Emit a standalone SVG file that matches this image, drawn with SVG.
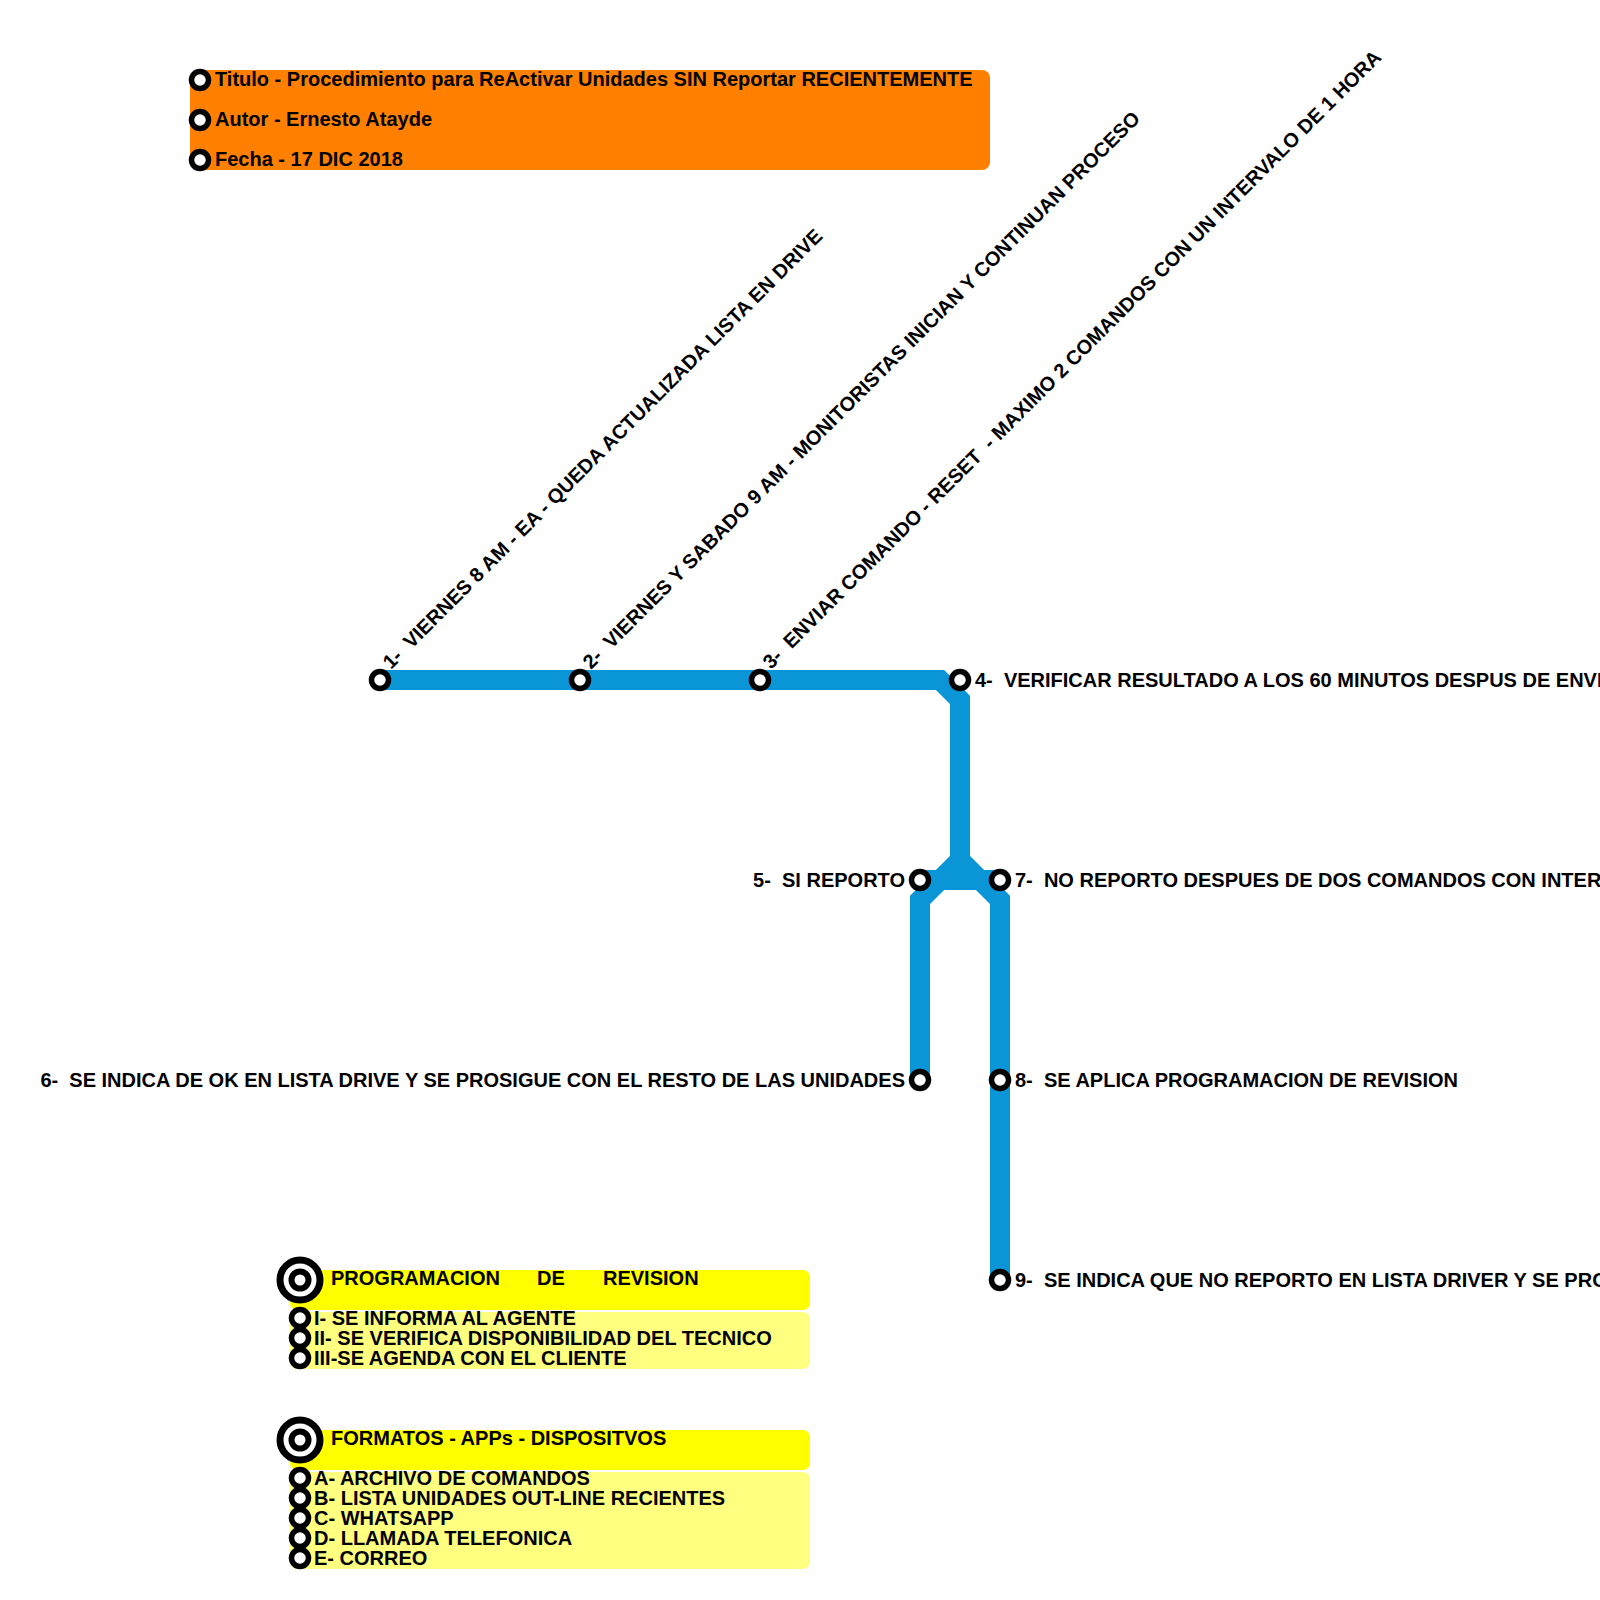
<svg xmlns="http://www.w3.org/2000/svg" width="1600" height="1600" viewBox="0 0 1600 1600">
<style>
text{font-family:"Liberation Sans",Arial,sans-serif;font-weight:bold;font-size:20px;fill:#000}
.st{fill:#fff;stroke:#000;stroke-width:5.5}
.ln{fill:none;stroke:#0A96D6;stroke-width:20;stroke-linejoin:miter;stroke-linecap:butt}
.big1{fill:#fff;stroke:#000;stroke-width:7}
.big2{fill:#fff;stroke:#000;stroke-width:6}
</style>
<rect width="1600" height="1600" fill="#fff"/>

<g id="header">
<rect x="190" y="70" width="800" height="100" rx="8" fill="#FF8000"/>
<circle class="st" cx="200" cy="80" r="8.5"/>
<circle class="st" cx="200" cy="120" r="8.5"/>
<circle class="st" cx="200" cy="160" r="8.5"/>
<text x="215" y="86">Titulo - Procedimiento para ReActivar Unidades SIN Reportar RECIENTEMENTE</text>
<text x="215" y="126">Autor - Ernesto Atayde</text>
<text x="215" y="166">Fecha - 17 DIC 2018</text>
</g>

<g id="connectors">
<path class="ln" d="M380,680 H940 L960,700 V860"/>
<path class="ln" d="M960,860 L920,900 V1080"/>
<path class="ln" d="M960,860 L1000,900 V1280"/>
<path class="ln" d="M920,880 H1000"/>
</g>

<g id="n1">
<circle class="st" cx="380" cy="680" r="8.5"/>
<text x="391" y="670" transform="rotate(-45 391 670)" xml:space="preserve">1-  VIERNES 8 AM - EA - QUEDA ACTUALIZADA LISTA EN DRIVE</text>
</g>
<g id="n2">
<circle class="st" cx="580" cy="680" r="8.5"/>
<text x="591" y="670" transform="rotate(-45 591 670)" xml:space="preserve">2-  VIERNES Y SABADO 9 AM - MONITORISTAS INICIAN Y CONTINUAN PROCESO</text>
</g>
<g id="n3">
<circle class="st" cx="760" cy="680" r="8.5"/>
<text x="771" y="670" transform="rotate(-45 771 670)" xml:space="preserve">3-  ENVIAR COMANDO - RESET  - MAXIMO 2 COMANDOS CON UN INTERVALO DE 1 HORA</text>
</g>
<g id="n4">
<circle class="st" cx="960" cy="680" r="8.5"/>
<text x="975" y="687" xml:space="preserve">4-  VERIFICAR RESULTADO A LOS 60 MINUTOS DESPUS DE ENVI</text>
</g>
<g id="n5">
<circle class="st" cx="920" cy="880" r="8.5"/>
<text x="905" y="887" text-anchor="end" xml:space="preserve">5-  SI REPORTO</text>
</g>
<g id="n6">
<circle class="st" cx="920" cy="1080" r="8.5"/>
<text x="905" y="1087" text-anchor="end" xml:space="preserve">6-  SE INDICA DE OK EN LISTA DRIVE Y SE PROSIGUE CON EL RESTO DE LAS UNIDADES</text>
</g>
<g id="n7">
<circle class="st" cx="1000" cy="880" r="8.5"/>
<text x="1015" y="887" xml:space="preserve">7-  NO REPORTO DESPUES DE DOS COMANDOS CON INTER</text>
</g>
<g id="n8">
<circle class="st" cx="1000" cy="1080" r="8.5"/>
<text x="1015" y="1087" xml:space="preserve">8-  SE APLICA PROGRAMACION DE REVISION</text>
</g>
<g id="n9">
<circle class="st" cx="1000" cy="1280" r="8.5"/>
<text x="1015" y="1287" xml:space="preserve">9-  SE INDICA QUE NO REPORTO EN LISTA DRIVER Y SE PRO</text>
</g>

<g id="legend1">
<rect x="290" y="1270" width="520" height="40" rx="7" fill="#FFFF00"/>
<rect x="290" y="1312" width="520" height="57" rx="7" fill="#FFFF80"/>
<circle class="big1" cx="300" cy="1280" r="20"/>
<circle class="big2" cx="300" cy="1280" r="8.5"/>
<text y="1285"><tspan x="331">PROGRAMACION</tspan><tspan x="537">DE</tspan><tspan x="603">REVISION</tspan></text>
<circle class="st" cx="300" cy="1318" r="8.5"/>
<circle class="st" cx="300" cy="1338" r="8.5"/>
<circle class="st" cx="300" cy="1358" r="8.5"/>
<text x="314" y="1325">I- SE INFORMA AL AGENTE</text>
<text x="314" y="1345">II- SE VERIFICA DISPONIBILIDAD DEL TECNICO</text>
<text x="314" y="1365">III-SE AGENDA CON EL CLIENTE</text>
</g>

<g id="legend2">
<rect x="290" y="1430" width="520" height="40" rx="7" fill="#FFFF00"/>
<rect x="290" y="1472" width="520" height="97" rx="7" fill="#FFFF80"/>
<circle class="big1" cx="300" cy="1440" r="20"/>
<circle class="big2" cx="300" cy="1440" r="8.5"/>
<text x="331" y="1445">FORMATOS - APPs - DISPOSITVOS</text>
<circle class="st" cx="300" cy="1478" r="8.5"/>
<circle class="st" cx="300" cy="1498" r="8.5"/>
<circle class="st" cx="300" cy="1518" r="8.5"/>
<circle class="st" cx="300" cy="1538" r="8.5"/>
<circle class="st" cx="300" cy="1558" r="8.5"/>
<text x="314" y="1485">A- ARCHIVO DE COMANDOS</text>
<text x="314" y="1505">B- LISTA UNIDADES OUT-LINE RECIENTES</text>
<text x="314" y="1525">C- WHATSAPP</text>
<text x="314" y="1545">D- LLAMADA TELEFONICA</text>
<text x="314" y="1565">E- CORREO</text>
</g>
</svg>
